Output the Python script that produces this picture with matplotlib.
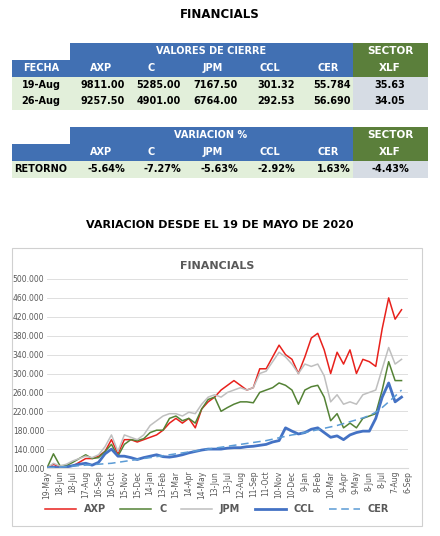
import matplotlib
matplotlib.use("Agg")
from matplotlib import pyplot as plt
from matplotlib.patches import Rectangle
import numpy as np

## table data
stocks = ["AXP", "C", "JPM", "CCL", "CER"]
fechas = ["19-Aug", "26-Aug"]
cierre = [["9811.00", "5285.00", "7167.50", "301.32", "55.784"],
          ["9257.50", "4901.00", "6764.00", "292.53", "56.690"]]
xlf_cierre = ["35.63", "34.05"]
retorno = ["-5.64%", "-7.27%", "-5.63%", "-2.92%", "1.63%"]
xlf_ret = "-4.43%"

## chart data, sampled every half tick (tick = 30 days)
tick_labels = ["19-May", "18-Jun", "18-Jul", "17-Aug", "16-Sep", "16-Oct", "15-Nov", "15-Dec",
               "14-Jan", "13-Feb", "15-Mar", "14-Apr", "14-May", "13-Jun", "13-Jul", "12-Aug",
               "11-Sep", "11-Oct", "10-Nov", "10-Dec", "9-Jan", "8-Feb", "10-Mar", "9-Apr",
               "9-May", "8-Jun", "8-Jul", "7-Aug", "6-Sep"]
axp = [100, 108, 102, 103, 104, 112, 120, 120, 125, 135, 160, 130, 160, 160, 155, 160,
       165, 170, 180, 195, 205, 195, 205, 185, 225, 240, 250, 265, 275, 285, 275, 265,
       270, 310, 310, 335, 360, 340, 330, 300, 335, 375, 385, 350, 300, 345, 320, 350,
       300, 330, 325, 315, 395, 460, 415, 435]
c = [100, 130, 105, 105, 112, 120, 128, 120, 122, 135, 150, 125, 150, 160, 158, 162,
     175, 180, 180, 205, 210, 200, 205, 195, 225, 245, 250, 220, 228, 235, 240, 240,
     238, 260, 265, 270, 280, 275, 265, 235, 265, 272, 275, 250, 200, 215, 185, 195,
     185, 205, 210, 215, 265, 325, 285, 285]
jpm = [100, 110, 104, 108, 115, 120, 125, 122, 128, 145, 170, 135, 170, 165, 160, 170,
       190, 200, 210, 215, 215, 210, 218, 215, 235, 250, 255, 250, 260, 265, 270, 265,
       270, 300, 305, 325, 345, 335, 320, 300, 320, 315, 320, 295, 240, 255, 235, 240,
       235, 255, 260, 265, 310, 355, 320, 330]
ccl = [100, 102, 100, 102, 105, 108, 110, 106, 112, 130, 140, 125, 125, 122, 118, 122,
       125, 128, 124, 123, 125, 128, 132, 135, 138, 140, 140, 140, 142, 143, 143, 145,
       146, 148, 150, 155, 158, 185, 178, 172, 175, 182, 185, 175, 165, 168, 160, 170,
       175, 178, 178, 205, 250, 280, 240, 250]
cer = [100, 101, 102, 103, 104, 105, 106, 107, 108, 109, 110, 112, 114, 116, 118, 120,
       122, 124, 126, 128, 130, 132, 134, 136, 138, 140, 142, 144, 146, 148, 150, 152,
       154, 156, 158, 161, 164, 167, 170, 172, 175, 178, 181, 184, 187, 190, 194, 198,
       202, 206, 211, 218, 228, 240, 252, 265]

W, H = 440, 536
fig = plt.figure(figsize=(W / 100, H / 100), dpi=100)
plt.rcParams['font.family'] = ['DejaVu Sans']

BLUE = "#4170b3"
GREEN = "#5b7f3b"
LGREEN = "#e2efda"
LGRAY = "#d6dce4"

# overlay axes in pixel coords for the tables
tab = fig.add_axes([0, 0, 1, 1])
tab.set_xlim(0, W)
tab.set_ylim(H, 0)
tab.axis("off")

def cell(x0, y0, x1, y1, color):
    tab.add_patch(Rectangle((x0, y0), x1 - x0, y1 - y0, color=color, lw=0))

def txt(x, y, s, color="black", ha="center", size=7):
    tab.text(x, y, s, color=color, ha=ha, va="center", fontsize=size, fontweight="bold")

cols = [12, 70, 127, 183, 240, 297, 353, 428]

tab.text(W / 2, 15, "FINANCIALS", ha="center", va="center", fontsize=8.5, fontweight="bold")

# table 1
cell(70, 43, 353, 60, BLUE)
cell(12, 60, 353, 77, BLUE)
cell(353, 43, 428, 77, GREEN)
cell(12, 77, 353, 110, LGREEN)
cell(353, 77, 428, 110, LGRAY)
txt(211, 51, "VALORES DE CIERRE", "white")
txt(390, 51, "SECTOR", "white", size=7.5)
txt(390, 68, "XLF", "white", size=7.5)
txt(41, 68, "FECHA", "white")
for i, s in enumerate(stocks):
    txt(cols[i + 1] + 20, 68, s, "white", ha="left")
for r, f in enumerate(fechas):
    y = 85 + r * 16
    txt(41, y, f)
    for i, v in enumerate(cierre[r]):
        txt(cols[i + 2] - 2, y, v, ha="right")
    txt(390, y, xlf_cierre[r])

# table 2
cell(70, 127, 353, 144, BLUE)
cell(12, 144, 353, 161, BLUE)
cell(353, 127, 428, 161, GREEN)
cell(12, 161, 353, 178, LGREEN)
cell(353, 161, 428, 178, LGRAY)
txt(211, 135, "VARIACION %", "white")
txt(390, 135, "SECTOR", "white", size=7.5)
txt(390, 152, "XLF", "white", size=7.5)
for i, s in enumerate(stocks):
    txt(cols[i + 1] + 20, 152, s, "white", ha="left")
txt(41, 169, "RETORNO")
for i, v in enumerate(retorno):
    txt(cols[i + 2] - 2, 169, v, ha="right")
txt(390, 169, xlf_ret)

tab.text(W / 2, 225, "VARIACION DESDE EL 19 DE MAYO DE 2020", ha="center", va="center",
         fontsize=8, fontweight="bold")
tab.add_patch(Rectangle((12, 248), 410, 278, fill=False, ec="#d0d0d0", lw=0.8))
tab.text(217, 266, "FINANCIALS", ha="center", va="center", fontsize=8,
         fontweight="bold", color="#595959")

# chart
x0, x1, ytop, ybot = 47, 408, 279, 468
ax = fig.add_axes([x0 / W, 1 - ybot / H, (x1 - x0) / W, (ybot - ytop) / H])
t = np.arange(len(axp)) * 0.5
ax.plot(t, axp, color="#e8211c", lw=1.1, label="AXP")
ax.plot(t, c, color="#548235", lw=1.1, label="C")
ax.plot(t, jpm, color="#bfbfbf", lw=1.1, label="JPM")
ax.plot(t, ccl, color="#4472c4", lw=2.0, label="CCL")
ax.plot(t, cer, color="#5b9bd5", lw=1.1, ls=(0, (5, 3)), label="CER")
ax.set_xlim(0, len(tick_labels) - 1)
ax.set_ylim(100, 500)
ax.set_yticks(np.arange(100, 501, 40))
ax.set_yticklabels([f"{v}.000" for v in range(100, 501, 40)], fontsize=5.5, color="#595959")
ax.set_xticks(range(len(tick_labels)))
ax.set_xticklabels(tick_labels, rotation=90, fontsize=5.5, color="#595959")
ax.grid(axis="y", color="#d9d9d9", lw=0.6)
ax.set_axisbelow(True)
ax.tick_params(length=0, pad=2)
for sp in ["top", "right", "left"]:
    ax.spines[sp].set_visible(False)
ax.spines["bottom"].set_color("#d9d9d9")
fig.legend(loc="center", bbox_to_anchor=(217 / W, 1 - 509 / H), ncol=5, frameon=False,
           prop={"size": 7, "weight": "bold"}, handlelength=3.2, columnspacing=1.5,
           labelcolor="#595959")

fig.savefig("out.png", dpi=100)
